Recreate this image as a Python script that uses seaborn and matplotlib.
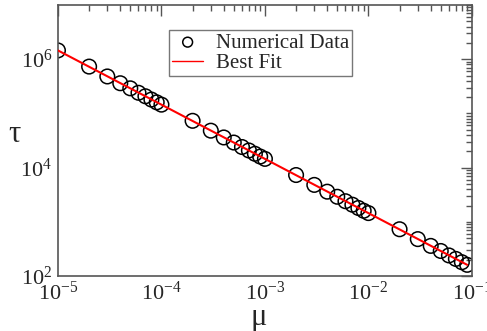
import matplotlib
matplotlib.use("Agg")
import matplotlib.pyplot as plt
import matplotlib.ticker as mticker
import pandas as pd
import seaborn as sns

# data
mu = [
    1e-5, 2e-5, 3e-5, 4e-5, 5e-5, 6e-5, 7e-5, 8e-5, 9e-5,
    1e-4, 2e-4, 3e-4, 4e-4, 5e-4, 6e-4, 7e-4, 8e-4, 9e-4,
    1e-3, 2e-3, 3e-3, 4e-3, 5e-3, 6e-3, 7e-3, 8e-3, 9e-3,
    1e-2, 2e-2, 3e-2, 4e-2, 5e-2, 6e-2, 7e-2, 8e-2, 9e-2,
]
tau = [
    1.45e6, 7.3e5, 4.8e5, 3.6e5, 2.9e5, 2.4e5, 2.07e5, 1.8e5, 1.6e5,
    1.45e5, 7.3e4, 4.8e4, 3.6e4, 2.9e4, 2.4e4, 2.07e4, 1.8e4, 1.6e4,
    1.45e4, 7.3e3, 4.8e3, 3.6e3, 2.9e3, 2.4e3, 2.07e3, 1.8e3, 1.6e3,
    1450, 730, 480, 360, 290, 240, 207, 180, 161,
]
fit_mu = [1e-5, 9e-2]
fit_tau = [1.45e6, 161]


def main():
    sns.set_theme(style="white")
    plt.rcParams["font.family"] = ["Liberation Serif", "DejaVu Serif"]
    plt.rcParams["mathtext.fontset"] = "custom"
    plt.rcParams["mathtext.rm"] = "Liberation Serif"
    plt.rcParams["mathtext.it"] = "Liberation Serif:italic"

    data = pd.DataFrame({"mu": mu, "tau": tau})
    fit = pd.DataFrame({"mu": fit_mu, "tau": fit_tau})

    fig = plt.figure(figsize=(4.87, 3.31), dpi=100)
    ax = fig.add_axes([0.119, 0.166, 0.85, 0.819])
    ax.set_xscale("log")
    ax.set_yscale("log")

    sns.lineplot(data=fit, x="mu", y="tau", color="red", lw=1.5,
                 label="Best Fit", ax=ax, zorder=3)
    sns.scatterplot(data=data, x="mu", y="tau", marker="o", s=110,
                    facecolor="none", edgecolor="black", linewidth=1.1,
                    label="Numerical Data", ax=ax, zorder=2)

    ax.set_xlim(1e-5, 1e-1)
    ax.set_ylim(1e2, 1e7)

    ax.xaxis.set_major_locator(mticker.FixedLocator([1e-5, 1e-4, 1e-3, 1e-2, 1e-1]))
    ax.xaxis.set_minor_locator(mticker.LogLocator(base=10, subs=range(2, 10), numticks=20))
    ax.yaxis.set_major_locator(mticker.FixedLocator([1e2, 1e4, 1e6]))
    ax.yaxis.set_minor_locator(mticker.LogLocator(base=10, subs=range(1, 10), numticks=20))
    ax.xaxis.set_major_formatter(mticker.LogFormatterMathtext())
    ax.yaxis.set_major_formatter(mticker.LogFormatterMathtext())
    ax.yaxis.set_minor_formatter(mticker.NullFormatter())
    ax.xaxis.set_minor_formatter(mticker.NullFormatter())

    ax.tick_params(which="both", direction="in", top=True, right=True,
                   color="#555555", width=1)
    ax.tick_params(which="major", length=8, labelsize=16, pad=4)
    ax.tick_params(which="minor", length=4)
    for spine in ax.spines.values():
        spine.set_color("#555555")
        spine.set_linewidth(1.2)

    ax.set_xlabel("μ", fontsize=22)
    ax.set_ylabel("τ", fontsize=22, rotation=0)
    ax.xaxis.set_label_coords(0.485, -0.1)
    ax.yaxis.set_label_coords(-0.105, 0.47)

    handles, labels = ax.get_legend_handles_labels()
    order = [labels.index("Numerical Data"), labels.index("Best Fit")]
    leg = ax.legend([handles[i] for i in order], [labels[i] for i in order],
                    loc="upper left", bbox_to_anchor=(0.268, 0.908),
                    fontsize=15, frameon=True, fancybox=False,
                    edgecolor="#555555", handlelength=1.5,
                    borderpad=0.15, labelspacing=0.05, handletextpad=0.6,
                    borderaxespad=0)
    leg.get_frame().set_linewidth(1.0)
    for h in leg.legend_handles:
        if hasattr(h, "set_sizes"):
            h.set_sizes([50])
        else:
            h.set_linewidth(1.0)

    fig.savefig("out.png", dpi=100)


if __name__ == "__main__":
    main()
